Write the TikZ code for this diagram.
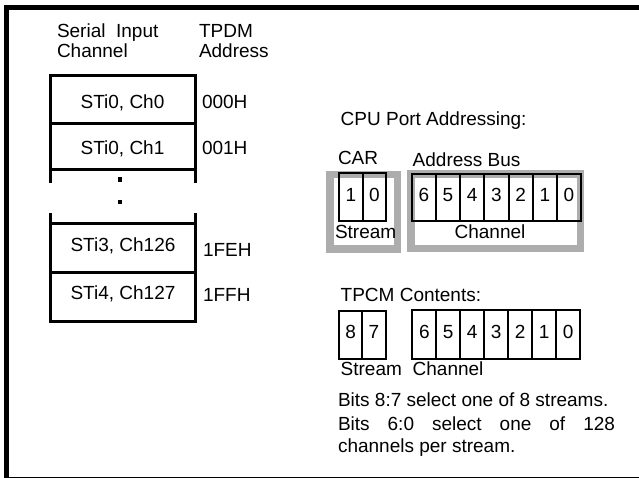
\documentclass[tikz,border=0pt]{standalone}
\usepackage{fontspec}
\setmainfont{Liberation Sans}
\begin{document}
\begin{tikzpicture}[x=1pt,y=-1pt,
  txt/.style={font=\fontsize{19}{20}\selectfont, inner sep=0pt, outer sep=0pt},
  cellbox/.style={draw, line width=3pt, minimum width=145pt, inner sep=0pt, outer sep=0pt},
  tbl/.style={line width=3pt},
  bit/.style={draw, line width=2pt, inner sep=0pt, outer sep=0pt, text height=13.6pt, text depth=5.6pt, font=\fontsize{19}{20}\selectfont},
  grayframe/.style={draw=black!32, line width=7.5pt}]
\useasboundingbox (0,0) rectangle (639,478);
% outer frame
\fill (4,5) rectangle (639,10);
\fill (4,5) rectangle (9,478);
\draw[line width=1pt] (4,477) -- (639,477);
% headers
\node[txt, anchor=base west] (h1) at (57,37.7) {Serial\ \ Input};
\node[txt, anchor=base west] (h2) at (57,58) {Channel};
\node[txt, anchor=base west] (h3) at (199,37.5) {TPDM};
\node[txt, anchor=base west] (h4) at (199,58) {Address};
% table cells
\node[cellbox, minimum height=48pt] (c1) at (122.5,100) {};
\node[cellbox, minimum height=46pt] (c2) at (122.5,147) {};
\node[cellbox, minimum height=48pt] (c4) at (122.5,248) {};
\node[cellbox, minimum height=49pt] (c5) at (122.5,296.5) {};
\draw[tbl] (c2.south west) -- ++(0,13);
\draw[tbl] (c2.south east) -- ++(0,13);
\draw[tbl] (c4.north west) -- ++(0,-11);
\draw[tbl] (c4.north east) -- ++(0,-11);
\fill (118.3,177.4) rectangle ++(3.5,4.3);
\fill (118.3,200) rectangle ++(3.5,4.3);
\node[txt, anchor=base] (t1) at (122.5,108.3) {STi0, Ch0};
\node[txt, anchor=base] (t2) at (122.5,155) {STi0, Ch1};
\node[txt, anchor=base] (t4) at (123,251.7) {STi3, Ch126};
\node[txt, anchor=base] (t5) at (123,299) {STi4, Ch127};
% addresses
\node[txt, anchor=base west] (a1) at (202,109) {000H};
\node[txt, anchor=base west] (a2) at (202,155) {001H};
\node[txt, anchor=base west] (a4) at (203,256) {1FEH};
\node[txt, anchor=base west] (a5) at (203,301) {1FFH};
% CPU port addressing
\node[txt, anchor=base west] (cpu) at (340.7,126) {CPU Port Addressing:};
\node[txt, anchor=base west] (car) at (338,165) {CAR};
\node[txt, anchor=base west] (ab) at (412.7,166.7) {Address Bus};
\draw[grayframe] (330,174.5) rectangle (397.5,249);
\draw[grayframe] (411,174) rectangle (580.5,248.5);
\node[bit, minimum width=23.4pt, minimum height=47.7pt] (car1) at (351,197.2) {1};
\node[bit, minimum width=23.4pt, minimum height=47.7pt] (car0) at (374.4,197.2) {0};
\foreach \d [count=\k from 0] in {6,5,4,3,2,1,0}
  \node[bit, minimum width=24.2pt, minimum height=46.7pt] (ab\d) at (423.8+24.2*\k,197.35) {\d};
\node[txt, anchor=base west] (s1) at (335,239) {Stream};
\node[txt, anchor=base] (ch1) at (490,239) {Channel};
% TPCM contents
\node[txt, anchor=base west] (tpcm) at (340.7,301.7) {TPCM Contents:};
\node[bit, minimum width=23.35pt, minimum height=48.3pt] (tp8) at (350.7,334.9) {8};
\node[bit, minimum width=23.35pt, minimum height=48.3pt] (tp7) at (374.0,334.9) {7};
\foreach \d [count=\k from 0] in {6,5,4,3,2,1,0}
  \node[bit, minimum width=23.96pt, minimum height=49pt] (tc\d) at (424.3+23.96*\k,334.5) {\d};
\node[txt, anchor=base west] (s2) at (340.7,375) {Stream};
\node[txt, anchor=base west] (ch2) at (412.7,375) {Channel};
% notes
\node[txt, anchor=base west] (p1) at (338,406.7) {Bits 8:7 select one of 8 streams.};
\node[txt, anchor=base west] (p2) at (338,430) {\hbox to 277pt{Bits\hfill 6:0\hfill select\hfill one\hfill of\hfill 128}};
\node[txt, anchor=base west] (p3) at (338,452.7) {channels per stream.};
\end{tikzpicture}
\end{document}
